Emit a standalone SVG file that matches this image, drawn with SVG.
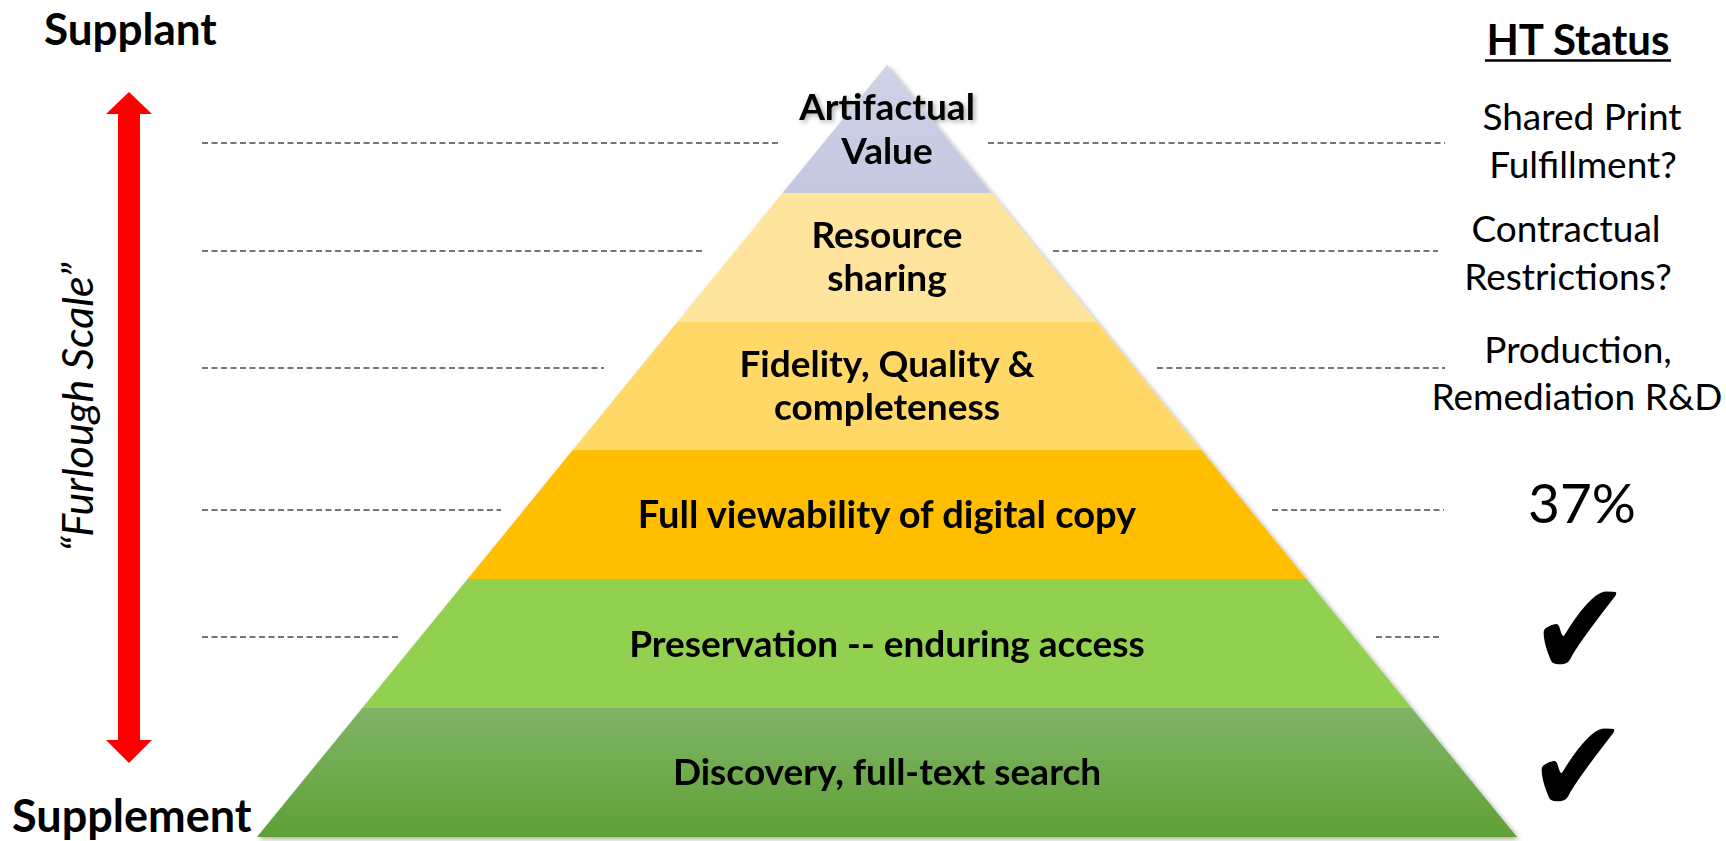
<svg xmlns="http://www.w3.org/2000/svg" width="1726" height="841" viewBox="0 0 1726 841">
  <style>
    .lbl { font-family: Lato, "Liberation Sans", sans-serif; font-weight: 700; font-size: 37px; fill: #000; text-anchor: middle; }
    .side { font-family: Lato, "Liberation Sans", sans-serif; font-weight: 700; font-size: 44px; fill: #000; }
    .status { font-family: Lato, "Liberation Sans", sans-serif; font-weight: 400; font-size: 37px; fill: #000; text-anchor: middle; }
    .check { font-family: "DejaVu Sans", sans-serif; font-size: 100px; fill: #000; text-anchor: middle; }
    .dash { stroke: #4a4a4a; stroke-width: 1.7; stroke-dasharray: 6 3.5; fill: none; }
  </style>
  <defs>
    <filter id="shadow" x="-5%" y="-5%" width="110%" height="110%">
      <feDropShadow dx="2" dy="2" stdDeviation="2.5" flood-color="#000" flood-opacity="0.35"/>
    </filter>
    <linearGradient id="gTop" x1="0" y1="0" x2="0" y2="1">
      <stop offset="0" stop-color="#D0D3E7"/>
      <stop offset="1" stop-color="#C3C8E0"/>
    </linearGradient>
    <linearGradient id="gGreen" x1="0" y1="0" x2="0" y2="1">
      <stop offset="0" stop-color="#7FB566"/>
      <stop offset="1" stop-color="#5FA036"/>
    </linearGradient>
  </defs>
  <rect width="1726" height="841" fill="#fff"/>

  <g id="connectors">
    <line class="dash" x1="202" y1="143" x2="778" y2="143"/>
    <line class="dash" x1="202" y1="251" x2="702" y2="251"/>
    <line class="dash" x1="202" y1="368" x2="604" y2="368"/>
    <line class="dash" x1="202" y1="510" x2="501" y2="510"/>
    <line class="dash" x1="202" y1="637" x2="400" y2="637"/>
    <line class="dash" x1="988" y1="143" x2="1445" y2="143"/>
    <line class="dash" x1="1053" y1="251" x2="1438" y2="251"/>
    <line class="dash" x1="1157" y1="368" x2="1445" y2="368"/>
    <line class="dash" x1="1272" y1="510" x2="1444" y2="510"/>
    <line class="dash" x1="1376" y1="637" x2="1441" y2="637"/>
  </g>

  <g id="pyramid" filter="url(#shadow)">
    <g id="layer-artifactual">
      <polygon points="887,65 991.4,193 782.6,193" fill="url(#gTop)"/>
      <text class="lbl" x="887" y="120">Artifactual</text>
      <text class="lbl" x="887" y="164">Value</text>
    </g>
    <g id="layer-resource">
      <polygon points="782.6,193 991.4,193 1096.7,322 677.3,322" fill="#FFE49D"/>
      <text class="lbl" x="887" y="248">Resource</text>
      <text class="lbl" x="887" y="291">sharing</text>
    </g>
    <g id="layer-fidelity">
      <polygon points="677.3,322 1096.7,322 1201.2,450 572.8,450" fill="#FFD868"/>
      <text class="lbl" x="887" y="377">Fidelity, Quality &amp;</text>
      <text class="lbl" x="887" y="420">completeness</text>
    </g>
    <g id="layer-viewability">
      <polygon points="572.8,450 1201.2,450 1306.4,579 467.6,579" fill="#FFBF00"/>
      <text class="lbl" x="887" y="528" style="font-size: 38px;">Full viewability of digital copy</text>
    </g>
    <g id="layer-preservation">
      <polygon points="467.6,579 1306.4,579 1411.7,708 362.3,708" fill="#92D050"/>
      <text class="lbl" x="887" y="657">Preservation -- enduring access</text>
    </g>
    <g id="layer-discovery">
      <polygon points="362.3,708 1411.7,708 1517,837 257,837" fill="url(#gGreen)"/>
      <text class="lbl" x="887" y="785">Discovery, full-text search</text>
    </g>
  </g>

  <g id="scale">
    <polygon points="129,92 152,114 140,114 140,740 152,740 129,763 106,740 118,740 118,114 106,114" fill="#FF0000"/>
    <text x="44" y="45" class="side">Supplant</text>
    <text x="12" y="832" class="side" style="font-size: 45px;">Supplement</text>
    <text transform="translate(93,407) rotate(-90)" text-anchor="middle" style="font-family: Lato, 'Liberation Sans', sans-serif; font-style: italic; font-size: 43px; fill: #000;">“Furlough Scale”</text>
  </g>

  <g id="status">
    <text x="1578" y="55" text-anchor="middle" style="font-family: Lato, 'Liberation Sans', sans-serif; font-weight: 700; font-size: 42px; fill: #000;">HT Status</text>
    <line x1="1485" y1="60.5" x2="1671" y2="60.5" stroke="#000" stroke-width="2.5"/>
    <g id="status-artifactual">
      <text class="status" x="1582" y="130">Shared Print</text>
      <text class="status" x="1583" y="178">Fulfillment?</text>
    </g>
    <g id="status-resource">
      <text class="status" x="1566" y="242">Contractual</text>
      <text class="status" x="1568" y="290">Restrictions?</text>
    </g>
    <g id="status-fidelity">
      <text class="status" x="1578" y="363">Production,</text>
      <text class="status" x="1577" y="410">Remediation R&amp;D</text>
    </g>
    <g id="status-viewability">
      <text class="status" x="1582" y="523" style="font-size: 55px;">37%</text>
    </g>
    <g id="status-preservation">
      <text class="check" transform="translate(1580,676) scale(1.2,1.34)" x="0" y="0">✔</text>
    </g>
    <g id="status-discovery">
      <text class="check" transform="translate(1578,813) scale(1.2,1.34)" x="0" y="0">✔</text>
    </g>
  </g>
</svg>
